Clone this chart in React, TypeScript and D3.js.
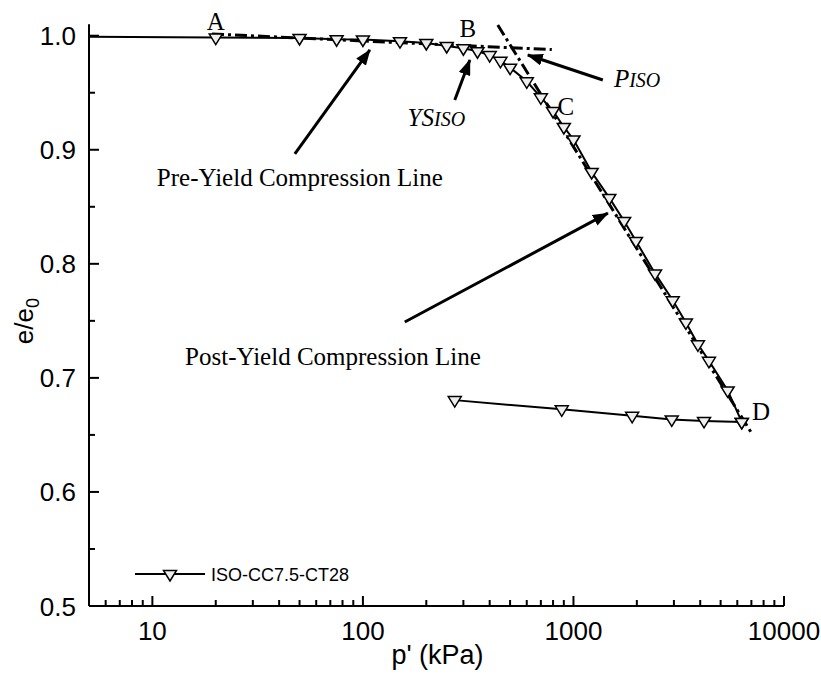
import React from 'react';
import * as d3 from 'd3';

// Loading path (p' in kPa, e/e0)
const P_LOAD = [1, 20, 50, 75, 100, 150, 200, 250, 300, 350, 400, 450, 500, 600, 700, 800, 900, 1000, 1220, 1480, 1740, 1980, 2440, 2960, 3420, 3900, 4400, 5400, 6300];
const E_LOAD = [1.0, 0.9984, 0.998, 0.9969, 0.9967, 0.9952, 0.9936, 0.991, 0.989, 0.9864, 0.983, 0.978, 0.972, 0.96, 0.946, 0.934, 0.92, 0.909, 0.8805, 0.8578, 0.8376, 0.82, 0.7916, 0.768, 0.7486, 0.7294, 0.715, 0.689, 0.6614];
// Unloading path
const P_UNLOAD = [6300, 4170, 2930, 1900, 880, 273];
const E_UNLOAD = [0.6614, 0.6623, 0.6636, 0.6667, 0.6724, 0.6805];

// Reference (dash-dot) lines
const PRE_LINE_P = [19.2, 789];
const PRE_LINE_E = [1.0015, 0.9878];
const POST_LINE_P = [437, 7047];
const POST_LINE_E = [1.0094, 0.651];

const X_MAJOR = [10, 100, 1000, 10000];
const X_LABELS = ['10', '100', '1000', '10000'];
const Y_MAJOR = [0.5, 0.6, 0.7, 0.8, 0.9, 1.0];
const Y_LABELS = ['0.5', '0.6', '0.7', '0.8', '0.9', '1.0'];
const Y_MINOR = [0.55, 0.65, 0.75, 0.85, 0.95];

const SERIES_NAME = 'ISO-CC7.5-CT28';

// Arrows: [tailP, tailE, tipP, tipE]
const ARROWS = [
  [47.5, 0.8963, 107.9, 0.9875],
  [273, 0.9436, 322, 0.9787],
  [1379, 0.9612, 607, 0.9831],
  [158, 0.749, 1457, 0.8444],
];

export default function App() {
  const W = 821, H = 675;
  const x = d3.scaleLog().domain([5, 10000]).range([89, 784]);
  const y = d3.scaleLinear().domain([0.5, 1.01]).range([606, 24.3]);
  const X0 = x.range()[0], X1 = x.range()[1];
  const Y0 = y.range()[0], Y1 = y.range()[1];

  const load = P_LOAD.map((p, i) => [p, E_LOAD[i]] as [number, number]);
  const unload = P_UNLOAD.map((p, i) => [p, E_UNLOAD[i]] as [number, number]);
  const line = d3.line<[number, number]>().x(d => x(d[0])).y(d => y(d[1]));

  const xMinor: number[] = [];
  [1, 10, 100, 1000].forEach(d => {
    for (let k = 2; k <= 9; k++) {
      const v = d * k;
      if (v > 5 && v < 10000) xMinor.push(v);
    }
  });

  const tri = 'M-6.5,-3.5L6.5,-3.5L0,7Z';
  const serif = '"Liberation Serif", "Times New Roman", serif';
  const sans = '"Liberation Sans", Arial, sans-serif';

  const inPlot = (p: number) => p >= 5 && p <= 10000;

  return (
    <svg width={W} height={H} style={{ position: 'absolute', left: 0, top: 0, background: '#fff' }}>
      <defs>
        <clipPath id="plot">
          <rect x={X0} y={0} width={X1 - X0 + 20} height={Y0} />
        </clipPath>
        <marker id="ah" viewBox="0 0 16 12" refX="15" refY="6" markerWidth="16" markerHeight="12" markerUnits="userSpaceOnUse" orient="auto">
          <path d="M0,0L16,6L0,12Z" fill="#000" />
        </marker>
      </defs>

      {/* dash-dot reference lines */}
      <path d={line(PRE_LINE_P.map((p, i) => [p, PRE_LINE_E[i]]) as any) || ''} stroke="#000" strokeWidth={3} fill="none" strokeDasharray="12,4,3,4" />
      <path d={line(POST_LINE_P.map((p, i) => [p, POST_LINE_E[i]]) as any) || ''} stroke="#000" strokeWidth={3} fill="none" strokeDasharray="12,4,3,4" />

      {/* data lines */}
      <g clipPath="url(#plot)">
        <path d={line(load) || ''} stroke="#000" strokeWidth={2} fill="none" />
        <path d={line(unload) || ''} stroke="#000" strokeWidth={2} fill="none" />
      </g>
      {load.filter(d => inPlot(d[0])).map((d, i) => (
        <path key={'l' + i} d={tri} transform={`translate(${x(d[0])},${y(d[1])})`} fill="#eee" stroke="#000" strokeWidth={1.5} />
      ))}
      {unload.filter(d => inPlot(d[0])).map((d, i) => (
        <path key={'u' + i} d={tri} transform={`translate(${x(d[0])},${y(d[1])})`} fill="#eee" stroke="#000" strokeWidth={1.5} />
      ))}

      {/* arrows */}
      {ARROWS.map((a, i) => (
        <line key={'a' + i} x1={x(a[0])} y1={y(a[1])} x2={x(a[2])} y2={y(a[3])} stroke="#000" strokeWidth={3} markerEnd="url(#ah)" />
      ))}

      {/* axes */}
      <line x1={X0} y1={Y0} x2={X1} y2={Y0} stroke="#000" strokeWidth={2} />
      <line x1={X0} y1={Y0} x2={X0} y2={Y1} stroke="#000" strokeWidth={2} />
      {X_MAJOR.map((v, i) => (
        <g key={'xm' + i}>
          <line x1={x(v)} x2={x(v)} y1={Y0} y2={Y0 - 10} stroke="#000" strokeWidth={2} />
          <text x={x(v)} y={Y0 + 34} textAnchor="middle" fontFamily={sans} fontSize={26}>{X_LABELS[i]}</text>
        </g>
      ))}
      {xMinor.map((v, i) => (
        <line key={'xn' + i} x1={x(v)} x2={x(v)} y1={Y0} y2={Y0 - 6} stroke="#000" strokeWidth={2} />
      ))}
      {Y_MAJOR.map((v, i) => (
        <g key={'ym' + i}>
          <line x1={X0} x2={X0 + 10} y1={y(v)} y2={y(v)} stroke="#000" strokeWidth={2} />
          <text x={X0 - 13} y={y(v) + 9.5} textAnchor="end" fontFamily={sans} fontSize={26}>{Y_LABELS[i]}</text>
        </g>
      ))}
      {Y_MINOR.map((v, i) => (
        <line key={'yn' + i} x1={X0} x2={X0 + 6} y1={y(v)} y2={y(v)} stroke="#000" strokeWidth={2} />
      ))}

      {/* axis titles */}
      <text x={(X0 + X1) / 2 + 1} y={664} textAnchor="middle" fontFamily={sans} fontSize={27}>p' (kPa)</text>
      <text transform={`translate(33, ${(Y0 + Y1) / 2 + 6}) rotate(-90)`} textAnchor="middle" fontFamily={sans} fontSize={26}>
        e/e<tspan fontSize={18} dy={6}>0</tspan>
      </text>

      {/* annotation labels */}
      <text x={x(20)} y={y(1.005)} textAnchor="middle" fontFamily={serif} fontSize={25}>A</text>
      <text x={x(315)} y={y(0.9989)} textAnchor="middle" fontFamily={serif} fontSize={25}>B</text>
      <text x={x(920)} y={y(0.9305)} textAnchor="middle" fontFamily={serif} fontSize={25}>C</text>
      <text x={x(7047)} y={y(0.663)} fontFamily={serif} fontSize={25}>D</text>
      <text x={x(1556)} y={y(0.955)} fontFamily={serif} fontStyle="italic" fontSize={25}>P<tspan fontSize={20}>ISO</tspan></text>
      <text x={x(163)} y={y(0.921)} fontFamily={serif} fontStyle="italic" fontSize={25}>YS<tspan fontSize={20}>ISO</tspan></text>
      <text x={x(10.5)} y={y(0.868)} fontFamily={serif} fontSize={25}>Pre-Yield Compression Line</text>
      <text x={x(14.3)} y={y(0.711)} fontFamily={serif} fontSize={25}>Post-Yield Compression Line</text>

      {/* legend */}
      <g transform="translate(135, 574)">
        <line x1={0} x2={70} y1={0} y2={0} stroke="#000" strokeWidth={2} />
        <path d={tri} transform="translate(35,0)" fill="#eee" stroke="#000" strokeWidth={1.5} />
        <text x={76} y={7} fontFamily={sans} fontSize={18}>{SERIES_NAME}</text>
      </g>
    </svg>
  );
}
